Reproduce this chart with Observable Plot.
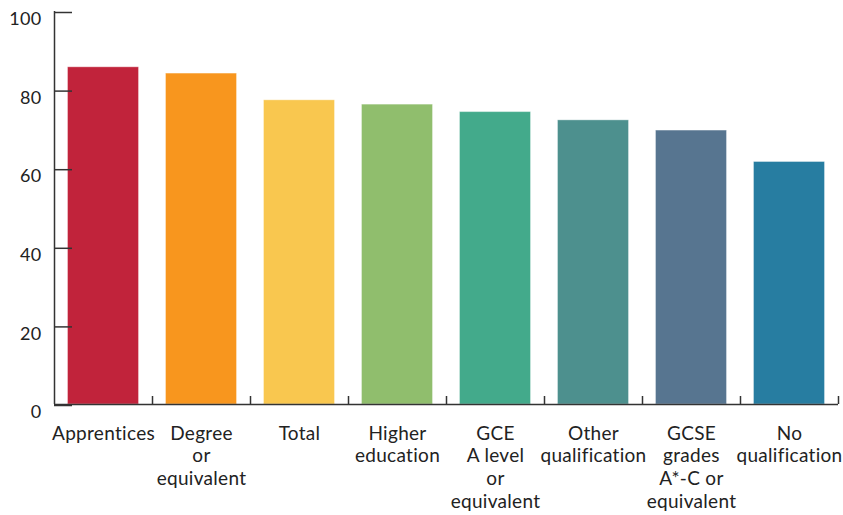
<!DOCTYPE html>
<html><head><meta charset="utf-8">
<script src="https://cdn.jsdelivr.net/npm/d3@7"></script>
<script src="https://cdn.jsdelivr.net/npm/@observablehq/plot@0.6"></script>
<style>html,body{margin:0;padding:0;background:#fff;overflow:hidden}#chart svg{display:block;max-width:none!important}</style>
</head><body><div id="chart"></div>
<script>
const categories = ["Apprentices","Degree or equivalent","Total","Higher education","GCE A level or equivalent","Other qualification","GCSE grades A*-C or equivalent","No qualification"];
const labels = ["Apprentices","Degree\nor\nequivalent","Total","Higher\neducation","GCE\nA level\nor\nequivalent","Other\nqualification","GCSE\ngrades\nA*-C or\nequivalent","No\nqualification"];
const values = [85.8, 84.2, 77.4, 76.3, 74.4, 72.3, 69.7, 61.7];
const colors = ["#c1233b","#f8961e","#f9c74f","#90be6d","#43aa8b","#4d908e","#577590","#277da1"];
const yTicks = [0, 20, 40, 60, 80, 100];

const data = categories.map((c, i) => ({category: c, value: values[i], color: colors[i]}));
const labelOf = new Map(categories.map((c, i) => [c, labels[i]]));

const chart = Plot.plot({
  width: 843, height: 515,
  marginLeft: 54, marginRight: 5, marginTop: 11, marginBottom: 111,
  style: {fontFamily: "Lato, 'Noto Sans', sans-serif", fontSize: "19px", color: "#222", background: "white", letterSpacing: "0.3px"},
  x: {domain: categories, range: [54, 838], paddingInner: 0.2755, paddingOuter: 0.1378, round: false, axis: null},
  y: {domain: [0, 100], range: [404, 11], axis: null},
  marks: [
    Plot.barY(data, {x: "category", y: "value", fill: "color", stroke: "white", strokeOpacity: 0.35, strokeWidth: 1}),
    Plot.ruleY([0], {stroke: "#333", strokeWidth: 1.5}),
    Plot.ruleX([categories[0]], {x: d => d, y1: 0, y2: 100, dx: -49, stroke: "#333", strokeWidth: 1.5}),
    Plot.axisY({ticks: yTicks, tickSize: -18, tickPadding: 31, lineAnchor: "top", dy: 1, label: null, stroke: "#333", strokeWidth: 1.5, fill: "#222", fontSize: 18}),
    Plot.axisX({tickSize: -8, fill: "none", dx: 49, label: null, stroke: "#333", strokeWidth: 1.5}),
    Plot.axisX({tickSize: 0, tickPadding: 19, tickFormat: d => labelOf.get(d), lineHeight: 1.2, label: null, fill: "#222", fontSize: 19})
  ]
});
document.getElementById("chart").append(chart);
</script>
</body></html>
